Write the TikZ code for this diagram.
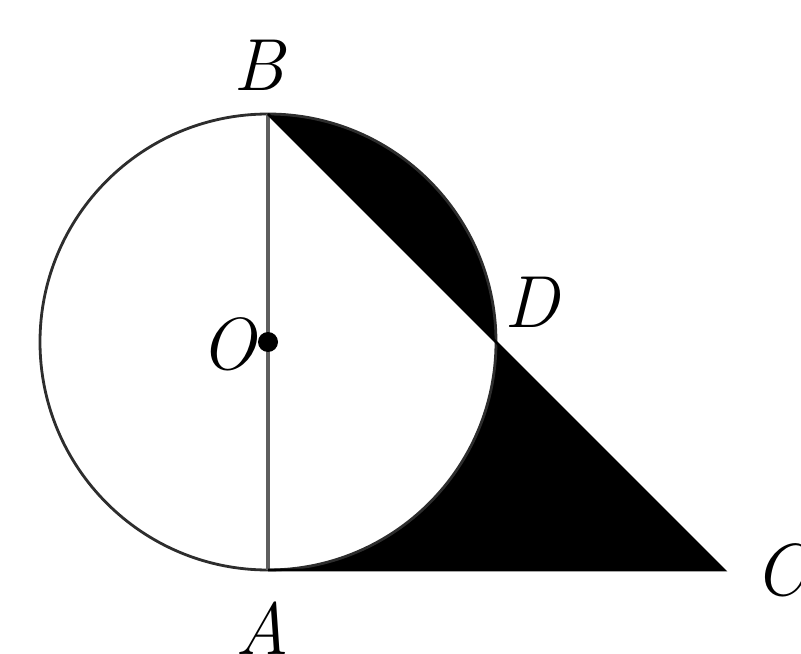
\documentclass[tikz,border=0pt]{standalone}
\usepackage{fontspec}
\usetikzlibrary{positioning}
\definecolor{DiamGray}{RGB}{95,95,95}
\definecolor{RimGray}{RGB}{45,45,45}

\begin{document}
\begin{tikzpicture}[x=0.02cm, y=0.02cm, every node/.style={font=\fontsize{42}{46}\selectfont\itshape, inner sep=0pt}]
  \useasboundingbox (0,0) rectangle (801,653);
  \clip (0,0) rectangle (801,653);
  \coordinate (O) at (268,311);
  \coordinate (B) at (268,539);
  \coordinate (A) at (268,83);
  \coordinate (D) at (496,311);
  \coordinate (C) at (724,83);
  % black parts
  \fill (B) arc[start angle=90, end angle=0, radius=228] -- cycle;
  \fill (D) -- (C) -- (A) arc[start angle=270, end angle=360, radius=228] -- cycle;
  \draw[line width=1.6pt, RimGray] (O) circle[radius=228];
  \draw[line width=2pt, DiamGray] (B) -- (A);
  \draw[line width=1.6pt] (B) -- (C) -- (A);
  \fill (O) circle[radius=10];
  \node (lB) at (259,588) {B};
  \node (lD) at (532,351) {D};
  \node (lO) at (228,309) {O};
  \node (lA) at (262,25) {A};
  \node (lC) at (780,83) {C};
\end{tikzpicture}
\end{document}
